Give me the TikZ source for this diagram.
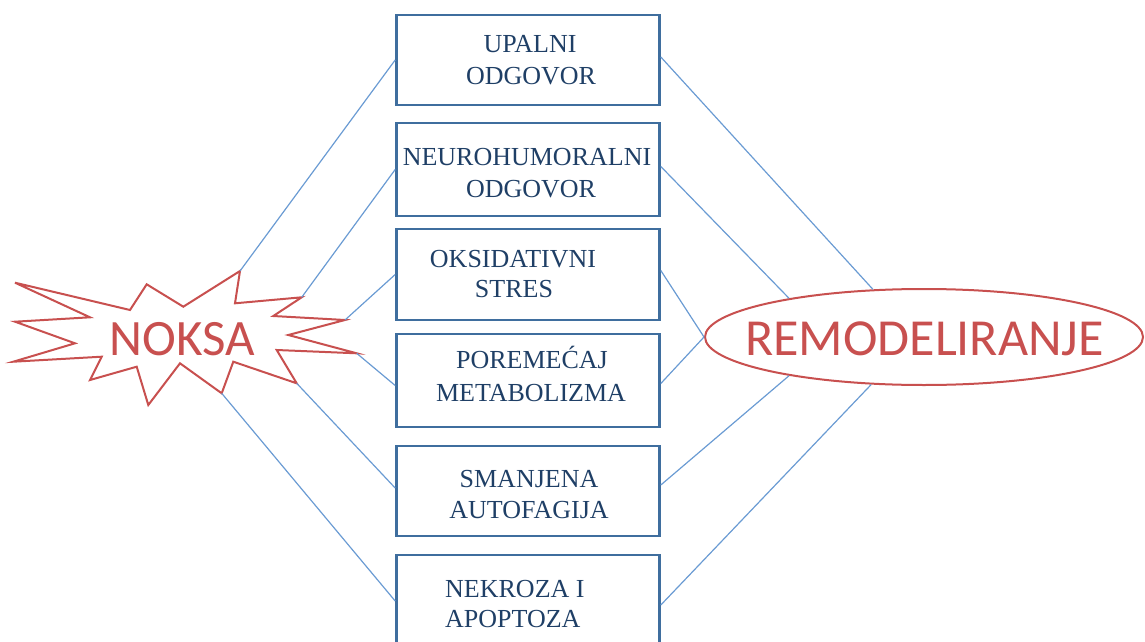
\documentclass[tikz,border=0pt]{standalone}
\usepackage{fontspec}
\setmainfont{Liberation Serif}
\newfontfamily\calib{Carlito}
\usetikzlibrary{shapes.geometric}
\definecolor{redc}{HTML}{C8504F}
\definecolor{linec}{HTML}{6A9BD3}
\definecolor{boxc}{HTML}{3F6E9E}
\definecolor{textc}{HTML}{1F3F66}
\begin{document}
\begin{tikzpicture}[x=1pt,y=-1pt,
  stagebox/.style={draw=boxc, line width=2.6pt, minimum width=263pt, inner sep=0pt, rectangle},
  boxtext/.style={anchor=base, inner sep=0pt, text=textc, font=\fontsize{26}{30}\selectfont},
  boxtextl/.style={boxtext, anchor=base west},
  link/.style={draw=linec, line width=1.2pt},
  redtext/.style={anchor=base, inner sep=0pt, text=redc, font=\calib\fontsize{51}{60}\selectfont}]
\useasboundingbox (0,0) rectangle (1145,642);
\clip (0,0) rectangle (1145,642);
% boxes
\node[stagebox, minimum height=90pt] (b1) at (528,60) {};
\node[stagebox, minimum height=93pt] (b2) at (528,169.5) {};
\node[stagebox, minimum height=91pt] (b3) at (528,274.5) {};
\node[stagebox, minimum height=93pt] (b4) at (528,380.5) {};
\node[stagebox, minimum height=90pt] (b5) at (528,491) {};
\node[stagebox, minimum height=92pt] (b6) at (528,601) {};
% box texts
\node[boxtext] (t1a) at (530,52.7) {UPALNI};
\node[boxtext] (t1b) at (531,84.5) {ODGOVOR};
\node[boxtext] (t2a) at (527,165) {NEUROHUMORALNI};
\node[boxtext] (t2b) at (531,197) {ODGOVOR};
\node[boxtext] (t3a) at (513,267) {OKSIDATIVNI};
\node[boxtext] (t3b) at (514,297) {STRES};
\node[boxtext] (t4a) at (532,368) {POREMEĆAJ};
\node[boxtext] (t4b) at (531,401) {METABOLIZMA};
\node[boxtext] (t5a) at (529,487) {SMANJENA};
\node[boxtext] (t5b) at (529,518) {AUTOFAGIJA};
\node[boxtextl] (t6a) at (445,597) {NEKROZA I};
\node[boxtextl] (t6b) at (445,627) {APOPTOZA};
% starburst
\coordinate (s1) at (240,271);
\coordinate (s2) at (301.7,297.3);
\coordinate (s3) at (345,320);
\coordinate (s4) at (356.7,353.3);
\coordinate (s5) at (296.7,383.3);
\coordinate (s6) at (221.7,393.3);
\draw[redc, line width=2pt, line join=miter, fill=white]
  (15,282.7) -- (130,310) -- (146.7,284.3) -- (183.3,306.7) -- (s1)
  -- (235,303.3) -- (s2) -- (273.3,316) -- (s3) -- (288.3,335)
  -- (s4) -- (276.7,350) -- (s5) -- (233.3,361.7) -- (s6)
  -- (180,363.3) -- (148.3,405) -- (136.7,366.7) -- (90,380)
  -- (101.7,356.7) -- (13.3,361.7) -- (75,343.3) -- (15,321.7)
  -- (90,317.3) -- cycle;
\node[redtext] (noksa) at (182.5,355) {NOKSA};
% ellipse
\node[ellipse, draw=redc, line width=2pt, minimum width=438pt, minimum height=96pt, inner sep=0pt] (remod) at (924,337) {};
\node[redtext, font=\calib\fontsize{52}{60}\selectfont] (remodtext) at (924.5,355) {REMODELIRANJE};
% connectors left
\draw[link] (s1) -- (b1.west);
\draw[link] (s2) -- (b2.west);
\draw[link] (s3) -- (b3.west);
\draw[link] (s4) -- ([yshift=-5pt]b4.west);
\draw[link] (s5) -- ([yshift=3pt]b5.west);
\draw[link] (s6) -- (b6.west);
% connectors right
\draw[link] ([yshift=3pt]b1.east) -- (remod.137.9);
\draw[link] ([yshift=3pt]b2.east) -- (remod.164);
\draw[link] ([yshift=4pt]b3.east) -- (remod.180);
\draw[link] ([yshift=-3pt]b4.east) -- (remod.180);
\draw[link] ([yshift=6pt]b5.east) -- (remod.196);
\draw[link] ([yshift=-4pt]b6.east) -- (remod.222.1);
\end{tikzpicture}
\end{document}
